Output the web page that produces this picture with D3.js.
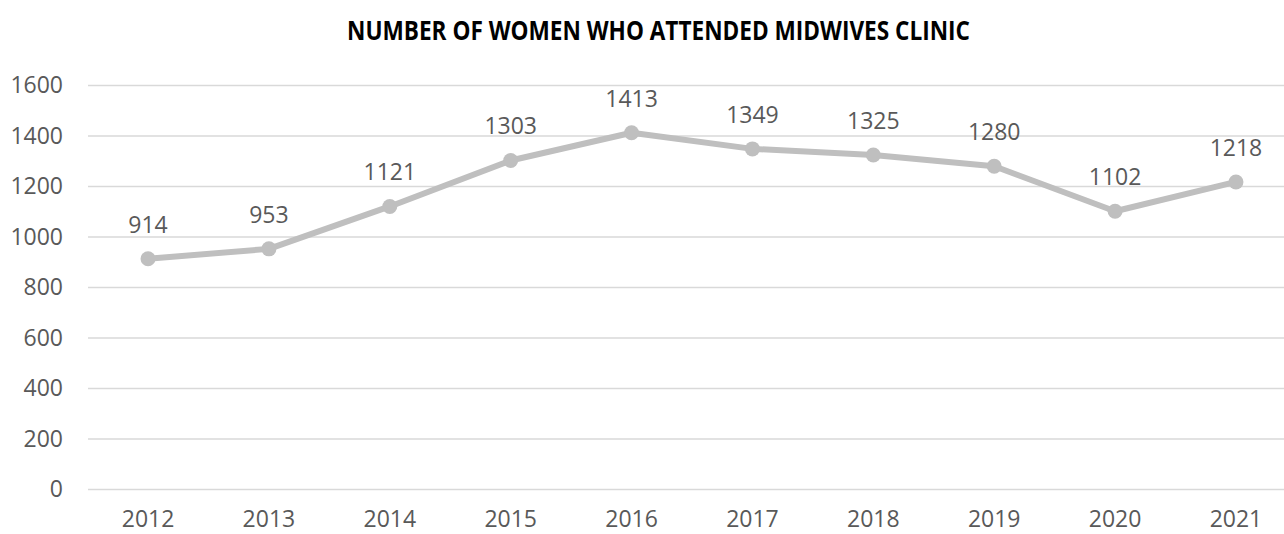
<!DOCTYPE html>
<html>
<head>
<meta charset="utf-8">
<script src="https://cdn.jsdelivr.net/npm/d3@7"></script>
<style>
  html, body { margin: 0; padding: 0; background: #fff; }
  svg { display: block; }
</style>
</head>
<body>
<svg id="chart" width="1284" height="534"></svg>
<script>
const titleText = "NUMBER OF WOMEN WHO ATTENDED MIDWIVES CLINIC";
const years = ["2012", "2013", "2014", "2015", "2016", "2017", "2018", "2019", "2020", "2021"];
const women = [914, 953, 1121, 1303, 1413, 1349, 1325, 1280, 1102, 1218];
const yTicks = [0, 200, 400, 600, 800, 1000, 1200, 1400, 1600];

const svg = d3.select("#chart");
const W = 1284, H = 534;
const plotLeft = 88, plotTop = 85.5, plotBottom = 489.5;

// category slots run slightly past the right edge of the canvas
const x = d3.scaleBand().domain(years).range([87.6, 1296.4]);
const y = d3.scaleLinear().domain([0, 1600]).range([plotBottom, plotTop]);

const font = "'Open Sans', sans-serif";

// Title
svg.append("text")
  .attr("x", 658.5).attr("y", 40)
  .attr("text-anchor", "middle")
  .attr("font-family", font)
  .attr("font-weight", 700)
  .attr("font-size", 26)
  .attr("fill", "#000")
  .attr("textLength", 623)
  .attr("lengthAdjust", "spacingAndGlyphs")
  .text(titleText);

// Horizontal gridlines
svg.append("g")
  .selectAll("line")
  .data(yTicks)
  .join("line")
  .attr("x1", plotLeft).attr("x2", W)
  .attr("y1", d => y(d)).attr("y2", d => y(d))
  .attr("stroke", "#d9d9d9").attr("stroke-width", 1.5);

// Y axis labels
const yAxis = d3.axisLeft(y).tickValues(yTicks).tickFormat(d3.format("d")).tickSize(0).tickPadding(25);
const gy = svg.append("g").attr("transform", `translate(${plotLeft},0)`).call(yAxis);
gy.select(".domain").remove();
gy.selectAll("text")
  .attr("font-family", font)
  .attr("font-size", 23)
  .attr("fill", "#595959");

// X axis labels
const xAxis = d3.axisBottom(x).tickSize(0).tickPadding(21);
const gx = svg.append("g").attr("transform", `translate(0,${y(0)})`).call(xAxis);
gx.select(".domain").remove();
gx.selectAll("text")
  .attr("font-family", font)
  .attr("font-size", 23)
  .attr("fill", "#595959");

const cx = d => x(d) + x.bandwidth() / 2;
const pts = years.map((yr, i) => ({ yr, v: women[i] }));

// Line
svg.append("path")
  .datum(pts)
  .attr("fill", "none")
  .attr("stroke", "#bfbfbf")
  .attr("stroke-width", 6)
  .attr("stroke-linejoin", "round")
  .attr("d", d3.line().x(d => cx(d.yr)).y(d => y(d.v)));

// Markers
svg.append("g")
  .selectAll("circle")
  .data(pts)
  .join("circle")
  .attr("cx", d => cx(d.yr)).attr("cy", d => y(d.v))
  .attr("r", 7.5)
  .attr("fill", "#bfbfbf");

// Data labels
svg.append("g")
  .selectAll("text")
  .data(pts)
  .join("text")
  .attr("x", d => cx(d.yr)).attr("y", d => y(d.v) - 26)
  .attr("text-anchor", "middle")
  .attr("font-family", font)
  .attr("font-size", 23)
  .attr("fill", "#595959")
  .text(d => d.v);
</script>
</body>
</html>
